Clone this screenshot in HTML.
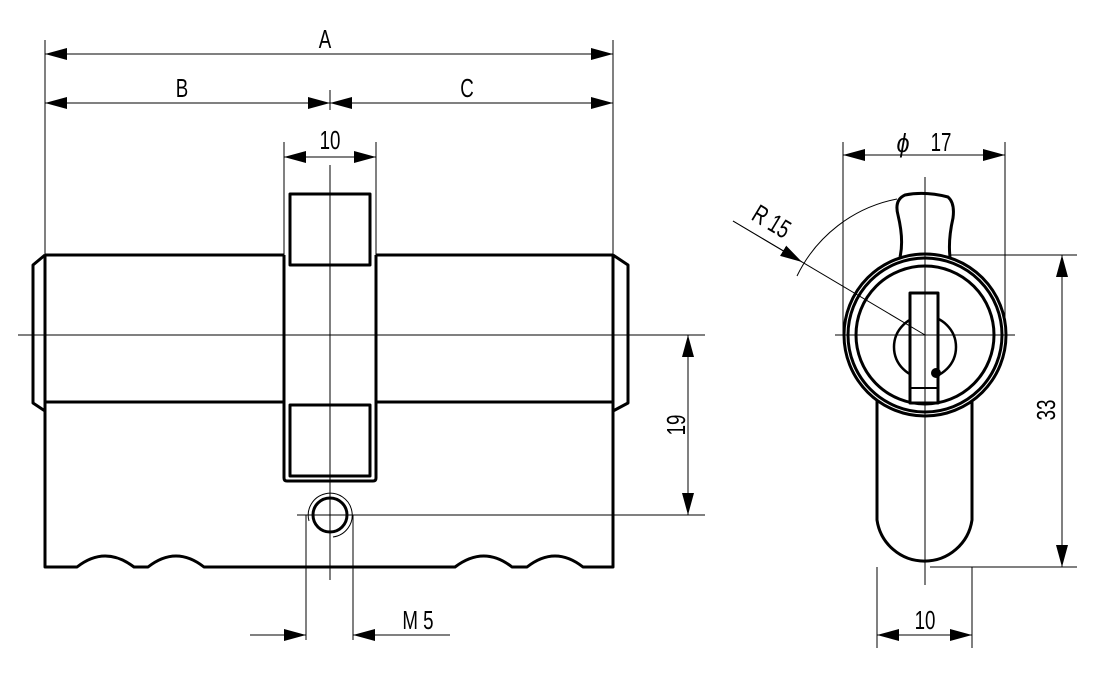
<!DOCTYPE html>
<html><head><meta charset="utf-8"><style>
html,body{margin:0;padding:0;background:#fff;}
svg{display:block}
text{font-family:"Liberation Sans Narrow","Liberation Sans",sans-serif;font-size:26px;fill:#000;}
</style></head><body>
<svg width="1095" height="680" viewBox="0 0 1095 680" xmlns="http://www.w3.org/2000/svg">
<defs>
<marker id="ar" viewBox="0 0 22 12" refX="22" refY="6" markerWidth="22" markerHeight="12" markerUnits="userSpaceOnUse" orient="auto-start-reverse">
<path d="M0,0 L22,6 L0,12 Z" fill="#000"/></marker>
</defs>
<g stroke="#000" fill="none">
<g stroke-width="1">
<line x1="45" y1="40" x2="45" y2="255"/>
<line x1="613" y1="40" x2="613" y2="255"/>
<line x1="45" y1="54" x2="613" y2="54" marker-start="url(#ar)" marker-end="url(#ar)"/>
<line x1="45" y1="103" x2="330" y2="103" marker-start="url(#ar)" marker-end="url(#ar)"/>
<line x1="330" y1="103" x2="613" y2="103" marker-start="url(#ar)" marker-end="url(#ar)"/>
<line x1="330" y1="90" x2="330" y2="110"/>
<line x1="284" y1="142" x2="284" y2="255"/>
<line x1="376" y1="142" x2="376" y2="255"/>
<line x1="284" y1="157" x2="376" y2="157" marker-start="url(#ar)" marker-end="url(#ar)"/>
<line x1="688" y1="335" x2="688" y2="515" marker-start="url(#ar)" marker-end="url(#ar)"/>
<line x1="306" y1="515" x2="306" y2="640"/>
<line x1="353" y1="515" x2="353" y2="640"/>
<line x1="250" y1="635" x2="306" y2="635" marker-end="url(#ar)"/>
<line x1="450" y1="635" x2="353" y2="635" marker-end="url(#ar)"/>
<path d="M309,521 A22,22 0 1 1 333,537"/>
<line x1="843" y1="142" x2="843" y2="335"/>
<line x1="1005" y1="142" x2="1005" y2="335"/>
<line x1="843" y1="155" x2="1005" y2="155" marker-start="url(#ar)" marker-end="url(#ar)"/>
<line x1="950" y1="255" x2="1077" y2="255"/>
<line x1="930" y1="567" x2="1077" y2="567"/>
<line x1="1062" y1="255" x2="1062" y2="567" marker-start="url(#ar)" marker-end="url(#ar)"/>
<line x1="877" y1="567" x2="877" y2="648"/>
<line x1="972" y1="567" x2="972" y2="648"/>
<line x1="877" y1="635" x2="972" y2="635" marker-start="url(#ar)" marker-end="url(#ar)"/>
<line x1="733" y1="221" x2="802" y2="262" marker-end="url(#ar)"/>
<path d="M797,276 A141,141 0 0 1 897,199"/>
</g>
<g stroke-width="3" stroke-linejoin="round">
<path d="M45,255 L284,255 M376,255 L613,255"/>
<path d="M45,402 L284,402 M376,402 L613,402"/>
<path d="M45,255 L45,567 L77,567 Q105,545 134,567 L148,567 Q176,545 204,567 L455,567 Q484,545 512,567 L527,567 Q555,545 583,567 L613,567 L613,255"/>
<path d="M45,255 L33,265 L33,403 L45,411"/>
<path d="M613,255 L628,265 L628,403 L613,411"/>
<path d="M284,255 L284,478 Q284,481 287,481 L373,481 Q376,481 376,478 L376,255"/>
<rect x="290" y="194" width="80" height="71" fill="#fff"/>
<rect x="290" y="405" width="80" height="71" fill="#fff"/>
<circle cx="330" cy="515" r="17"/>
<path d="M900,257 Q904,240 898,215 Q894,200 905,195 Q925,191 948,197 Q955,203 953,218 Q948,240 950,257"/>
<path d="M877,400 L877,520 A48,48 0 0 0 972,520 L972,400"/>
<circle cx="925" cy="335" r="81" fill="#fff"/>
<circle cx="925" cy="335" r="77"/>
<circle cx="925" cy="335" r="69"/>
<circle cx="925" cy="347" r="31" stroke-width="2.5"/>
<rect x="910" y="293" width="28" height="110" fill="#fff"/>
<line x1="910" y1="388" x2="938" y2="388" stroke-width="2"/>
<circle cx="936" cy="373" r="3.5" fill="#000"/>
</g>
<g stroke-width="1">
<line x1="925" y1="335" x2="733" y2="221"/>
<line x1="925" y1="177" x2="925" y2="585"/>
<line x1="835" y1="335" x2="1015" y2="335"/>
<line x1="330" y1="165" x2="330" y2="580"/>
<line x1="18" y1="335" x2="705" y2="335"/>
<line x1="297" y1="515" x2="705" y2="515"/>
</g>
</g>
<g text-anchor="middle">
<text transform="translate(325,48) scale(0.72,1)">A</text>
<text transform="translate(182,97) scale(0.72,1)">B</text>
<text transform="translate(467,97) scale(0.72,1)">C</text>
<text transform="translate(330,149) scale(0.72,1)">10</text>
<text transform="translate(418,629) scale(0.72,1)">M 5</text>
<text transform="translate(685,425) rotate(-90) scale(0.72,1)">19</text>
<text transform="translate(903,152) scale(0.9,1)" font-size="30" font-style="italic">ϕ</text>
<text transform="translate(941,151) scale(0.72,1)">17</text>
<text transform="translate(1055,410) rotate(-90) scale(0.72,1)">33</text>
<text transform="translate(925,629) scale(0.72,1)">10</text>
<text transform="translate(767,229) rotate(31) scale(0.72,1)">R 15</text>
</g>
</svg>
</body></html>
